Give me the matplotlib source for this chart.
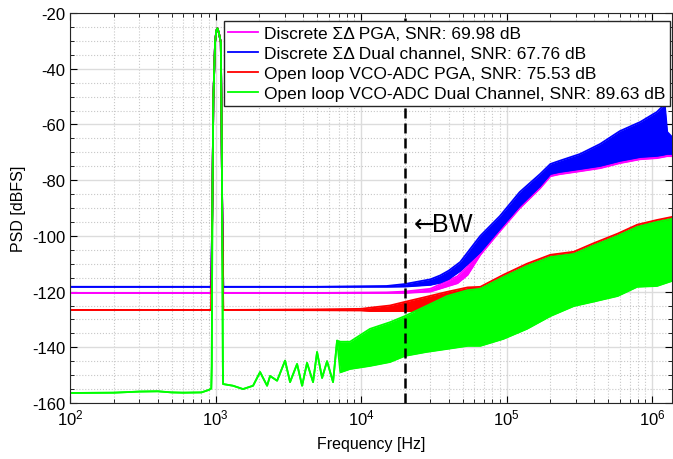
import numpy as np
import matplotlib
matplotlib.use('Agg')
import matplotlib.pyplot as plt

plt.rcParams['font.family'] = ['Liberation Sans', 'DejaVu Sans']
plt.rcParams['axes.unicode_minus'] = False

# tone peak at 1 kHz (shared by all four spectra)
peak_f = [942, 952, 966, 993, 1013, 1030, 1052, 1087, 1097, 1110, 1123]
peak_db = [-146.7, -86.8, -50.9, -30.5, -26.3, -25.5, -26.9, -30.5, -50.9, -86.8, -146.7]

# Discrete SD PGA (magenta)
mag_floor = -120.5
mag_f = [1130, 5e3, 1.5e4, 2e4, 3e4, 4.6e4, 5.4e4, 6.6e4, 9e4, 1.23e5, 1.7e5, 2e5, 2.3e5,
         3.2e5, 4.4e5, 6e5, 8.3e5, 1.08e6, 1.27e6, 1.37e6]
mag_lo = [-120.5, -120.5, -120.5, -120.5, -120.0, -117.0, -114.0, -106.8, -98.3, -90.1, -82.9,
          -78.6, -77.9, -76.8, -75.7, -73.9, -72.5, -72.1, -71.4, -71.4]
mag_hi = [-120.5, -120.5, -120.3, -120.0, -119.0, -114.5, -111.0, -102.0, -94.0, -86.0, -79.0,
          -75.5, -74.5, -72.0, -69.0, -65.0, -62.0, -60.0, -65.0, -66.0]

# Discrete SD Dual channel (blue)
blue_floor = -118.3
blue_f = [1130, 5e3, 1.5e4, 2e4, 3e4, 3.5e4, 4e4, 4.8e4, 6.6e4, 9e4, 1.23e5, 1.7e5, 2e5, 2.3e5,
          3.2e5, 4.4e5, 6e5, 8.3e5, 1.08e6, 1.17e6, 1.22e6, 1.27e6, 1.37e6]
blue_lo = [-118.3, -118.3, -118.3, -118.2, -117.6, -116.8, -115.5, -112.6, -105.8, -97.5, -89.3,
           -82.1, -77.8, -77.1, -76.0, -74.9, -73.1, -71.7, -71.3, -71.0, -70.8, -70.6, -70.6]
blue_hi = [-118.3, -118.3, -118.0, -117.3, -115.6, -114.2, -112.5, -109.4, -100.0, -92.9, -84.3,
           -77.8, -74.2, -73.1, -70.6, -67.0, -62.4, -59.1, -55.5, -53.7, -52.5, -62.7, -64.5]

# Open loop VCO-ADC PGA (red)
red_floor = -126.6
red_f = [1130, 5e3, 1e4, 1.15e4, 1.58e4, 2e4, 2.8e4, 3.9e4, 5.4e4, 6.6e4, 9.5e4, 1.38e5, 2e5,
         2.9e5, 3.9e5, 5.8e5, 7.9e5, 1.08e6, 1.37e6]
red_lo = [-126.6, -126.7, -126.8, -127.0, -127.0, -127.0, -127.0, -127.5, -128.0, -129.0, -127.0,
          -123.0, -119.0, -116.0, -113.0, -110.0, -107.0, -106.0, -104.0]
red_hi = [-126.6, -126.4, -126.2, -125.8, -125.0, -123.7, -121.9, -120.1, -118.5, -118.3, -114.0,
          -110.0, -106.8, -105.7, -102.8, -99.2, -96.0, -94.3, -93.2]

# Open loop VCO-ADC Dual Channel (green)
green_pre_f = [100, 200, 300, 400, 500, 600, 800, 900, 935]
green_pre_db = [-156.4, -156.3, -155.9, -155.8, -156.2, -156.3, -156.2, -155.3, -154.8]
green_f = [1127, 1318, 1545, 1811, 2024, 2261, 2371, 2649, 3006, 3252, 3634, 3934, 4255, 4680,
           4986, 5398, 5840, 6421, 6843,
           7.2e3, 8.4e3, 1.15e4, 1.58e4, 2e4, 2.8e4, 3.9e4, 5.4e4, 6.6e4, 9.5e4, 1.38e5, 2e5,
           2.9e5, 3.9e5, 5.8e5, 7.9e5, 1.08e6, 1.37e6]
green_lo = [-153.2, -153.8, -155.0, -153.8, -148.9, -153.8, -150.3, -152.0, -144.8, -152.5,
            -146.0, -153.8, -145.6, -152.5, -141.7, -151.0, -145.0, -152.5, -137.6,
            -149.0, -147.8, -146.7, -145.3, -143.1, -141.7, -140.6, -139.5, -139.5, -137.0,
            -133.4, -128.8, -125.2, -123.7, -121.6, -118.3, -118.0, -116.2]
green_hi = [-153.2, -153.8, -155.0, -153.8, -148.9, -153.8, -150.3, -152.0, -144.8, -152.5,
            -146.0, -153.8, -145.6, -152.5, -141.7, -151.0, -145.0, -152.5, -137.6,
            -138.0, -138.0, -133.4, -131.0, -128.8, -125.2, -121.6, -119.5, -119.0, -114.8,
            -110.8, -107.6, -106.5, -103.6, -100.0, -96.8, -95.0, -93.9]

labels = ['Discrete \u03a3\u0394 PGA, SNR: 69.98 dB',
          'Discrete \u03a3\u0394 Dual channel, SNR: 67.76 dB',
          'Open loop VCO-ADC PGA, SNR: 75.53 dB',
          'Open loop VCO-ADC Dual Channel, SNR: 89.63 dB']
colors = ['#ff00ff', '#0000ff', '#ff0000', '#00ff00']
bw = 2e4


def with_peak(pre_f, pre_db, post_f, post_lo, post_hi, floor):
    pf = [f for f, d in zip(peak_f, peak_db) if d > floor]
    pd = [d for d in peak_db if d > floor]
    f = list(pre_f) + pf + list(post_f)
    lo = list(pre_db) + pd + list(post_lo)
    hi = list(pre_db) + pd + list(post_hi)
    return np.array(f), np.array(lo), np.array(hi)


series = [
    with_peak([100, 935], [mag_floor] * 2, mag_f, mag_lo, mag_hi, mag_floor),
    with_peak([100, 935], [blue_floor] * 2, blue_f, blue_lo, blue_hi, blue_floor),
    with_peak([100, 935], [red_floor] * 2, red_f, red_lo, red_hi, red_floor),
    with_peak(green_pre_f, green_pre_db, green_f, green_lo, green_hi, -160),
]

fig = plt.figure(figsize=(6.73, 4.60), dpi=100)
ax = fig.add_axes([70 / 673, 56 / 460, 602 / 673, 390 / 460])

for i, ((f, lo, hi), c, lab) in enumerate(zip(series, colors, labels)):
    z = 2 + i
    ax.fill_between(f, lo, hi, color=c, lw=0, zorder=z)
    ax.plot(f, hi, color=c, lw=1.3, label=lab, zorder=z)
    ax.plot(f, lo, color=c, lw=1.3, zorder=z)

ax.axvline(bw, color='k', ls='--', lw=1.8, dashes=(4, 2), zorder=10)
ax.text(2.12e4, -98.2, r'$\leftarrow\!\!$BW', fontsize=18, va='baseline', ha='left', zorder=10)

ax.set_xscale('log')
ax.set_xlim(1e2, 1.37e6)
ax.set_ylim(-160, -20)
ax.set_yticks(np.arange(-160, -19, 20))
ax.set_yticks(np.arange(-160, -19, 5), minor=True)
ax.grid(True, which='major', color='#dcdcdc', lw=1, ls='-')
ax.grid(True, which='minor', color='#c8c8c8', lw=0.8, ls=':')
ax.set_axisbelow(True)
ax.tick_params(which='both', direction='in', top=True, right=True, labelsize=12)
ax.tick_params(which='major', length=5)
ax.tick_params(which='minor', length=3)
for s in ax.spines.values():
    s.set_color('#262626')
    s.set_zorder(11)
ax.set_xlabel('Frequency [Hz]', fontsize=11.5, labelpad=6)
ax.set_ylabel('PSD [dBFS]', fontsize=11.5)

leg = ax.legend(loc='upper right', bbox_to_anchor=(0.997, 0.9795), borderaxespad=0,
                fontsize=12.5, fancybox=False, framealpha=1, edgecolor='#262626',
                handlelength=1.7, handletextpad=0.35, labelspacing=0.28, borderpad=0.28)
leg.get_frame().set_linewidth(1)
leg.set_zorder(12)

fig.savefig('out.png', dpi=100)
